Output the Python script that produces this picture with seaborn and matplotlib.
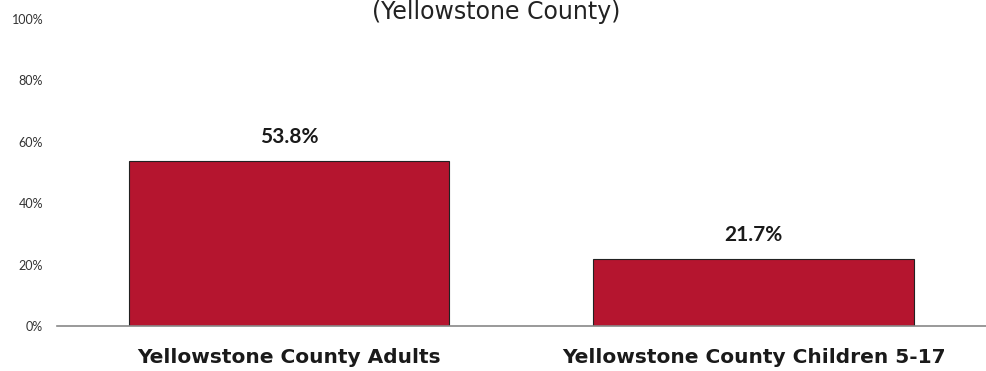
import matplotlib
matplotlib.use('Agg')
import matplotlib.pyplot as plt
import seaborn as sns
import pandas as pd

groups = ['Yellowstone County Adults', 'Yellowstone County Children 5-17']
values = [53.8, 21.7]
value_labels = ['53.8%', '21.7%']
y_ticks = [0, 20, 40, 60, 80, 100]
y_tick_labels = ['0%', '20%', '40%', '60%', '80%', '100%']

sns.set_style('white')
plt.rcParams['font.family'] = ['Lato', 'DejaVu Sans']

df = pd.DataFrame({'group': groups, 'value': values})

fig = plt.figure(figsize=(9.86, 3.71), dpi=100)
ax = fig.add_axes([0.0578, 0.1213, 0.9422, 0.8275])

sns.barplot(data=df, x='group', y='value', color='#B5152F', saturation=1,
            width=0.69, edgecolor='#222222', linewidth=0.8, ax=ax)

for i, (v, lab) in enumerate(zip(values, value_labels)):
    ax.annotate(lab, (i, v), xytext=(0, 10), textcoords='offset points',
                ha='center', va='bottom', fontsize=15, fontweight='bold', color='#1a1a1a')

ax.set_xlim(-0.5, 1.5)
ax.set_ylim(0, 100)
ax.set_yticks(y_ticks)
ax.set_yticklabels(y_tick_labels, fontsize=9, color='#333333')
ax.tick_params(axis='y', length=0, pad=10)
ax.tick_params(axis='x', length=0, pad=16)
for t in ax.get_xticklabels():
    t.set_family(['DejaVu Sans'])
    t.set_fontsize(14.5)
    t.set_fontweight('bold')
    t.set_color('#1a1a1a')
ax.set_xlabel('')
ax.set_ylabel('')

for s in ['top', 'right', 'left']:
    ax.spines[s].set_visible(False)
ax.spines['bottom'].set_color('#888888')
ax.spines['bottom'].set_linewidth(1.2)

fig.text(0.503, 0.999, '(Yellowstone County)', ha='center', va='top',
         fontsize=17, color='#222222', family=['DejaVu Sans'])

fig.savefig('out.png', dpi=100)
